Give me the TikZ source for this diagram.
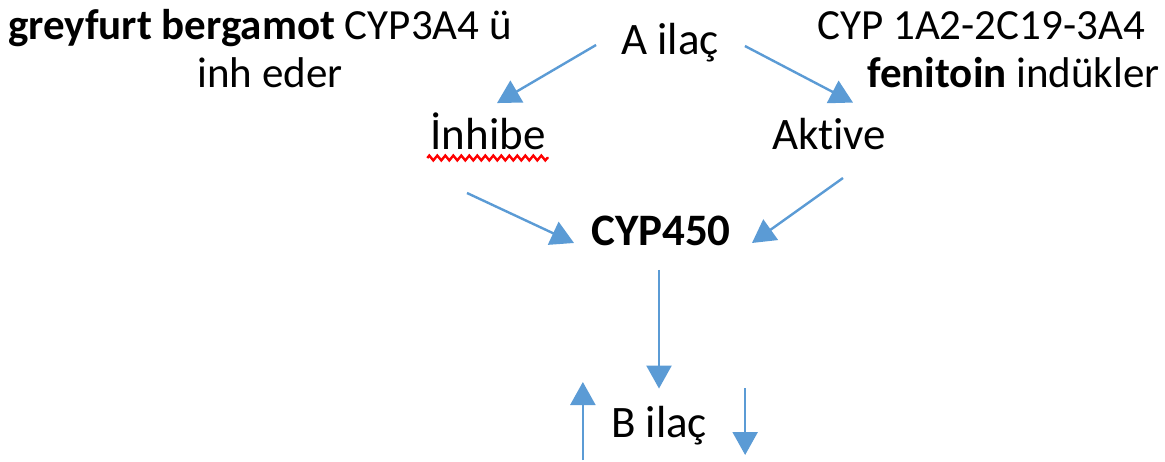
\documentclass[tikz,border=0pt]{standalone}
\usepackage{fontspec}
\setmainfont{Carlito}[Ligatures=NoCommon]
\usetikzlibrary{arrows.meta,calc,decorations.pathmorphing}
\definecolor{arrblue}{HTML}{5B9BD5}
\tikzset{
  lbl/.style={inner sep=0pt, anchor=base, text=black, font=\fontsize{45}{54}\selectfont},
  toplbl/.style={inner sep=0pt, text=black, font=\fontsize{43}{50}\selectfont},
  arr/.style={draw=arrblue, line width=2.4pt, -{Triangle[width=25pt,length=23pt]}},
  squiggle/.style={draw=red, line width=2.4pt, decorate, decoration={zigzag, segment length=8pt, amplitude=2.4pt}}
}
\begin{document}
\begin{tikzpicture}[x=1pt,y=-1pt]
\useasboundingbox (0,0) rectangle (1165,462);
% top texts
\node[toplbl, anchor=base] (tl1) at (260,40) {\textbf{greyfurt bergamot} CYP3A4 ü};
\node[toplbl, anchor=base] (tl2) at (270,88) {inh eder};
\node[toplbl, anchor=base east] (tr1) at (1145,40) {CYP 1A2-2C19-3A4};
\node[toplbl, anchor=base east] (tr2) at (1160,88) {\textbf{fenitoin} indükler};
% main nodes
\node[lbl] (A) at (670,55) {A ilaç};
\node[lbl] (inh) at (488,150) {İnhibe};
\node[lbl] (akt) at (829,150) {Aktive};
\node[lbl] (cyp) at (661,246) {\textbf{CYP450}};
\node[lbl] (B) at (659,437) {B ilaç};
% red wavy underline
\draw[squiggle] ($(inh.base west)+(-3,8)$) -- ($(inh.base east)+(3,8)$);
% connectors
\draw[arr] ($(A.base west)+(-25,-10)$) -- ($(inh.north)+(9,-10)$);
\draw[arr] ($(A.base east)+(26,-9)$) -- ($(akt.north)+(24,-16)$);
\draw[arr] ($(inh.base)+(-21,43)$) -- ($(cyp.base west)+(-17,-3)$);
\draw[arr] ($(akt.base)+(14,28)$) -- ($(cyp.base east)+(21,-3)$);
\draw[arr] ($(cyp.base)+(-2,24)$) -- ($(B.north)+(0,-17)$);
\coordinate (upstart) at ($(B.base west)+(-28,23)$);
\coordinate (downstart) at ($(B.base east)+(38,-49)$);
\draw[arr] (upstart) -- ($(B.base west)+(-28,-55)$);
\draw[arr] (downstart) -- ($(B.base east)+(38,18)$);
\end{tikzpicture}
\end{document}
